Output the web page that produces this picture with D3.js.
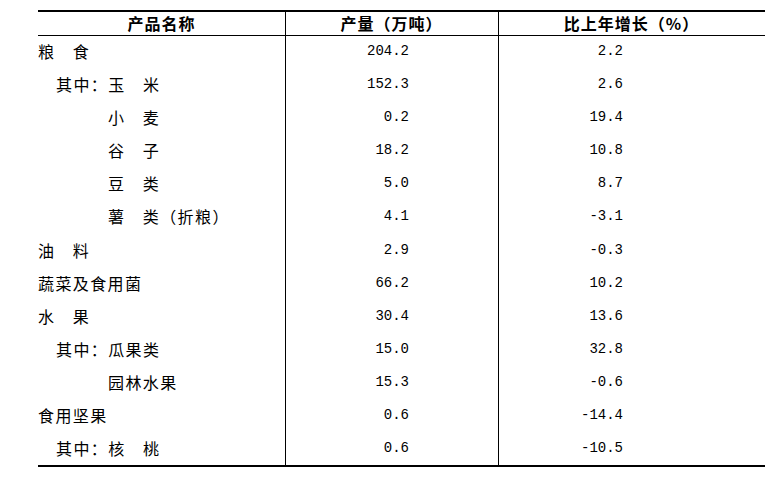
<html>
<head>
<meta charset="utf-8">
<script src="https://d3js.org/d3.v7.min.js"></script>
<style>
body{margin:0;background:#fff}
</style>
</head>
<body>
<svg width=784 height=480></svg>
<script>
const headers=["产品名称","产量（万吨）","比上年增长（%）"]
const names=["粮　食","其中：玉　米","小　麦","谷　子","豆　类","薯　类（折粮）","油　料","蔬菜及食用菌","水　果","其中：瓜果类","园林水果","食用坚果","其中：核　桃"]
const depth=[0,1,2,2,2,2,0,0,0,1,2,0,1]
const output=["204.2","152.3","0.2","18.2","5.0","4.1","2.9","66.2","30.4","15.0","15.3","0.6","0.6"]
const growth=["2.2","2.6","19.4","10.8","8.7","-3.1","-0.3","10.2","13.6","32.8","-0.6","-14.4","-10.5"]

const svg=d3.select("svg")
const cols=[38,285,498,765]
const topY=11, headY=35, bottomY=466

const ys=d3.scaleBand().domain(d3.range(names.length)).range([headY,bottomY])
const indent=d3.scaleOrdinal().domain([0,1,2]).range([38,56,108])
const rowY=i=>ys(i)+ys.bandwidth()/2-1

const cjk="'Noto Sans CJK SC', sans-serif"
const num="'Liberation Mono', monospace"

// rules
svg.append("line").attr("x1",cols[0]).attr("x2",cols[3]).attr("y1",topY).attr("y2",topY)
  .attr("stroke","#000").attr("stroke-width",2)
svg.append("line").attr("x1",cols[0]).attr("x2",cols[3]).attr("y1",headY+0.5).attr("y2",headY+0.5)
  .attr("stroke","#000").attr("stroke-width",1)
svg.append("line").attr("x1",cols[0]).attr("x2",cols[3]).attr("y1",bottomY).attr("y2",bottomY)
  .attr("stroke","#000").attr("stroke-width",2)
svg.selectAll("line.v").data([cols[1],cols[2]]).enter().append("line")
  .attr("class","v")
  .attr("x1",d=>d+0.5).attr("x2",d=>d+0.5).attr("y1",topY).attr("y2",bottomY)
  .attr("stroke","#000").attr("stroke-width",1)

// header
svg.selectAll("text.h").data(headers).enter().append("text")
  .attr("class","h")
  .attr("x",(d,i)=>(cols[i]+cols[i+1])/2)
  .attr("y",(topY+headY)/2)
  .attr("text-anchor","middle")
  .attr("dominant-baseline","central")
  .style("font-family",cjk).style("font-size","16px").style("font-weight","bold")
  .style("letter-spacing","1px")
  .text(d=>d)

// names
svg.selectAll("text.n").data(names).enter().append("text")
  .attr("class","n")
  .attr("x",(d,i)=>indent(depth[i]))
  .attr("y",(d,i)=>rowY(i))
  .attr("dominant-baseline","central")
  .style("font-family",cjk).style("font-size","16px")
  .style("letter-spacing","1.4px")
  .text(d=>d)

// numbers
svg.selectAll("text.o").data(output).enter().append("text")
  .attr("class","o")
  .attr("x",409)
  .attr("y",(d,i)=>rowY(i))
  .attr("text-anchor","end")
  .attr("dominant-baseline","central")
  .style("font-family",num).style("font-size","14px")
  .text(d=>d)

svg.selectAll("text.g").data(growth).enter().append("text")
  .attr("class","g")
  .attr("x",623)
  .attr("y",(d,i)=>rowY(i))
  .attr("text-anchor","end")
  .attr("dominant-baseline","central")
  .style("font-family",num).style("font-size","14px")
  .text(d=>d)
</script>
</body>
</html>
